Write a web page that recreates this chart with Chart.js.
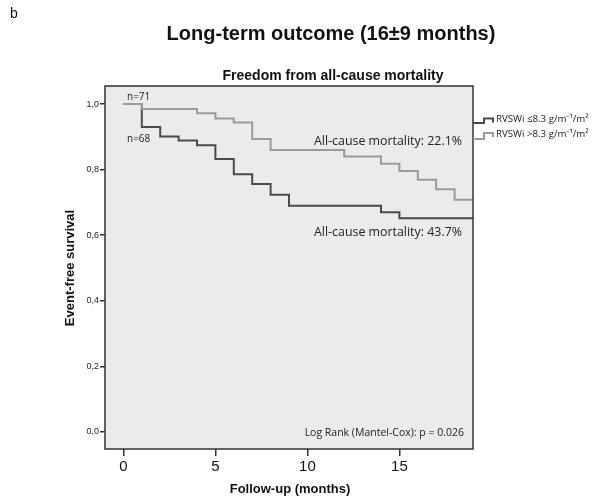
<!DOCTYPE html>
<html>
<head>
<meta charset="utf-8">
<script src="https://cdn.jsdelivr.net/npm/chart.js@4"></script>
<style>
  html, body { margin: 0; padding: 0; background: #fff; }
  #wrap { width: 607px; height: 497px; }
</style>
</head>
<body>
<div id="wrap"><canvas id="km"></canvas></div>
<script>
// Kaplan-Meier curves (month, survival)
const lowMonths = [0, 1, 2, 3, 4, 5, 6, 7, 8, 9, 14, 15, 19];
const lowSurvival = [1.0, 0.93, 0.901, 0.889, 0.874, 0.832, 0.786, 0.756, 0.723, 0.690, 0.670, 0.652, 0.652];
const highMonths = [0, 1, 4, 5, 6, 7, 8, 12, 14, 15, 16, 17, 18, 19];
const highSurvival = [1.0, 0.985, 0.972, 0.956, 0.944, 0.893, 0.860, 0.840, 0.818, 0.796, 0.769, 0.740, 0.708, 0.708];

const seriesLabels = ['RVSWi \u22648.3 g/m\u207B\u00B9/m\u00B2', 'RVSWi >8.3 g/m\u207B\u00B9/m\u00B2'];
const seriesColors = ['#4a4a4a', '#9a9a9a'];
const xTicks = [0, 5, 10, 15];
const yTicks = [0, 0.2, 0.4, 0.6, 0.8, 1.0];

const toPoints = (xs, ys) => xs.map((x, i) => ({ x: x, y: ys[i] }));

// --- Extra drawing: panel background, frame, titles, notes, legend ---
const decor = {
  id: 'decor',
  beforeDatasetsDraw(chart) {
    const { ctx, chartArea: a } = chart;
    ctx.save();
    ctx.fillStyle = '#ebebeb';
    ctx.fillRect(a.left, a.top, a.right - a.left, a.bottom - a.top);
    ctx.restore();
  },
  afterDraw(chart) {
    const { ctx, chartArea: a } = chart;
    ctx.save();
    ctx.strokeStyle = '#333';
    ctx.lineWidth = 1.5;
    ctx.strokeRect(a.left, a.top, a.right - a.left, a.bottom - a.top);

    ctx.fillStyle = '#111';
    ctx.textBaseline = 'middle';
    ctx.font = '14px "Liberation Sans", Arial, sans-serif';
    ctx.textAlign = 'left';
    ctx.fillText('b', 10, 14);

    ctx.textAlign = 'center';
    ctx.font = 'bold 20px "Liberation Sans", Arial, sans-serif';
    ctx.fillText('Long-term outcome (16\u00B19 months)', 331, 34);
    ctx.font = 'bold 14px "Liberation Sans", Arial, sans-serif';
    ctx.fillText('Freedom from all-cause mortality', 333, 76);

    ctx.font = 'bold 13px "Liberation Sans", Arial, sans-serif';
    ctx.fillText('Follow-up (months)', 290, 489);
    ctx.save();
    ctx.translate(70, 268);
    ctx.rotate(-Math.PI / 2);
    ctx.fillText('Event-free survival', 0, 0);
    ctx.restore();

    ctx.fillStyle = '#222';
    ctx.textAlign = 'left';
    ctx.font = '10px "Open Sans", sans-serif';
    ctx.fillText('n=71', 127, 97);
    ctx.fillText('n=68', 127, 139);
    ctx.font = '12.4px "Open Sans", sans-serif';
    ctx.fillText('All-cause mortality: 22.1%', 314, 141);
    ctx.fillText('All-cause mortality: 43.7%', 314, 232);
    ctx.textAlign = 'right';
    ctx.font = '10.5px "Open Sans", sans-serif';
    ctx.fillText('Log Rank (Mantel-Cox): p = 0.026', 464, 433);

    // legend with step-shaped keys
    const keys = [{ y: 123, up: 118.5 }, { y: 139, up: 133 }];
    ctx.lineWidth = 2;
    keys.forEach((k, i) => {
      ctx.strokeStyle = seriesColors[i];
      ctx.beginPath();
      ctx.moveTo(a.right, k.y);
      ctx.lineTo(484, k.y);
      ctx.lineTo(484, k.up);
      ctx.lineTo(493, k.up);
      ctx.lineTo(493, k.up + 4);
      ctx.stroke();
      ctx.fillStyle = '#222';
      ctx.textAlign = 'left';
      ctx.font = '9.7px "Open Sans", sans-serif';
      ctx.fillText(seriesLabels[i], 496, k.up + 1);
    });
    ctx.restore();
  }
};

new Chart(document.getElementById('km'), {
  type: 'line',
  data: {
    datasets: [
      {
        label: seriesLabels[1],
        data: toPoints(highMonths, highSurvival),
        borderColor: seriesColors[1],
        borderWidth: 2,
        stepped: true,
        pointRadius: 0,
        fill: false
      },
      {
        label: seriesLabels[0],
        data: toPoints(lowMonths, lowSurvival),
        borderColor: seriesColors[0],
        borderWidth: 2,
        stepped: true,
        pointRadius: 0,
        fill: false
      }
    ]
  },
  options: {
    responsive: true,
    maintainAspectRatio: false,
    animation: false,
    layout: { padding: { left: 0, top: 86, right: 134, bottom: 0 } },
    plugins: { legend: { display: false }, tooltip: { enabled: false } },
    scales: {
      x: {
        type: 'linear',
        min: -1,
        max: 19,
        afterFit: s => { s.height = 48; },
        afterBuildTicks: s => { s.ticks = xTicks.map(v => ({ value: v })); },
        grid: { drawOnChartArea: false, drawTicks: true, tickLength: 7, color: '#333', lineWidth: 1.5 },
        border: { display: false },
        ticks: { color: '#111', padding: 2, font: { size: 15, family: '"Liberation Sans", Arial, sans-serif' } }
      },
      y: {
        type: 'linear',
        min: -0.052,
        max: 1.055,
        afterFit: s => { s.width = 105; },
        afterBuildTicks: s => { s.ticks = yTicks.map(v => ({ value: v })); },
        grid: { drawOnChartArea: false, drawTicks: true, tickLength: 5, color: '#333', lineWidth: 1.5 },
        border: { display: false },
        ticks: {
          color: '#222',
          padding: 1,
          font: { size: 9, family: '"Liberation Sans", Arial, sans-serif' },
          callback: v => v.toFixed(1).replace('.', ',')
        }
      }
    }
  },
  plugins: [decor]
});
</script>
</body>
</html>
